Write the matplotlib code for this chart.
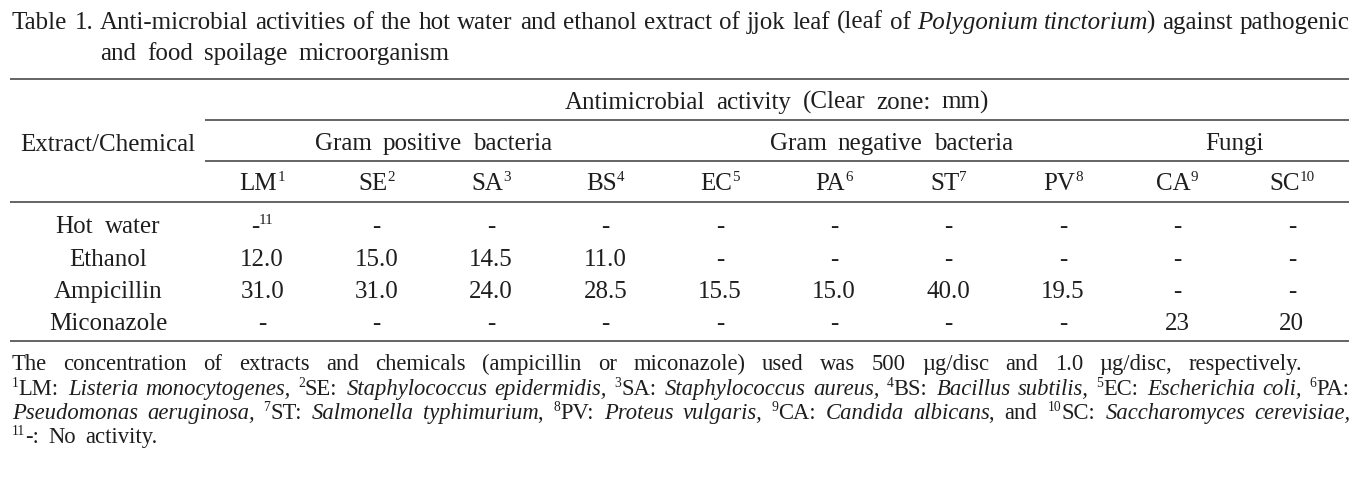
import matplotlib
matplotlib.use("Agg")
import matplotlib.pyplot as plt

# table content
columns = ["LM", "SE", "SA", "BS", "EC", "PA", "ST", "PV", "CA", "SC"]
col_notes = ["1", "2", "3", "4", "5", "6", "7", "8", "9", "10"]
groups = ["Gram positive bacteria", "Gram negative bacteria", "Fungi"]
group_spans = [(0, 4), (4, 8), (8, 10)]
row_labels = ["Hot water", "Ethanol", "Ampicillin", "Miconazole"]
hot_water = [None] * 10
ethanol = [12.0, 15.0, 14.5, 11.0, None, None, None, None, None, None]
ampicillin = [31.0, 31.0, 24.0, 28.5, 15.5, 15.0, 40.0, 19.5, None, None]
miconazole = [None, None, None, None, None, None, None, None, 23, 20]
row_decimals = [1, 1, 1, 0]

title_label = "Table 1."
title_runs1 = [("Anti-microbial activities of the hot water and ethanol extract of jjok leaf (leaf of ", "n"),
               ("Polygonium tinctorium", "i"), (") against pathogenic", "n")]
title_runs2 = [("and food spoilage microorganism", "n")]
note1 = [("The concentration of extracts and chemicals (ampicillin or miconazole) used was 500 µg/disc and 1.0 µg/disc, respectively.", "n")]
note2 = [("1", "s"), ("LM: ", "n"), ("Listeria monocytogenes,", "i"), (" ", "n"),
         ("2", "s"), ("SE: ", "n"), ("Staphylococcus epidermidis,", "i"), (" ", "n"),
         ("3", "s"), ("SA: ", "n"), ("Staphylococcus aureus,", "i"), (" ", "n"),
         ("4", "s"), ("BS: ", "n"), ("Bacillus subtilis,", "i"), (" ", "n"),
         ("5", "s"), ("EC: ", "n"), ("Escherichia coli,", "i"), (" ", "n"),
         ("6", "s"), ("PA:", "n")]
note3 = [("Pseudomonas aeruginosa,", "i"), (" ", "n"),
         ("7", "s"), ("ST: ", "n"), ("Salmonella typhimurium", "i"), (", ", "n"),
         ("8", "s"), ("PV: ", "n"), ("Proteus vulgaris,", "i"), (" ", "n"),
         ("9", "s"), ("CA: ", "n"), ("Candida albicans", "i"), (", and ", "n"),
         ("10", "s"), ("SC: ", "n"), ("Saccharomyces cerevisiae,", "i")]
note4 = [("11", "s"), ("-: No activity.", "n")]

W, H = 1369, 481
FONT = "Liberation Serif"
INK = "#1e1e1e"

fig = plt.figure(figsize=(W / 100, H / 100), dpi=100)
ax = fig.add_axes([0, 0, 1, 1])
ax.set_xlim(0, W)
ax.set_ylim(H, 0)
ax.axis("off")
renderer = fig.canvas.get_renderer()


def props(st, size):
    p = dict(family=FONT, color=INK, va="baseline", ha="left")
    if st == "i":
        p["style"] = "italic"
    p["fontsize"] = size * 0.6 if st == "s" else size
    return p


def text_w(s, st, size):
    t = ax.text(0, 0, s, **props(st, size))
    w = t.get_window_extent(renderer).width
    t.remove()
    if st == "i":
        # italic ink box hangs past the advance
        w -= size * 1.389 * 0.07
    return w


def split_words(runs):
    words = [[]]
    for text, st in runs:
        parts = text.split(" ")
        for i, p in enumerate(parts):
            if i > 0:
                words.append([])
            if p:
                words[-1].append((p, st))
    return [w for w in words if w]


def word_w(word, size):
    return sum(text_w(s, st, size) for s, st in word)


def draw_word(x, y, word, size):
    for s, st in word:
        dy = -size * 1.389 * 0.34 if st == "s" else 0
        ax.text(x, y + dy, s, **props(st, size))
        x += text_w(s, st, size)
    return x


def draw_line(x, y, runs, size, gap=7, width=None, align="left"):
    words = split_words(runs)
    ws = [word_w(w, size) for w in words]
    if width is not None and len(words) > 1:
        gap = (width - sum(ws)) / (len(words) - 1)
    total = sum(ws) + gap * (len(words) - 1)
    if align == "center":
        x -= total / 2
    for w, ww in zip(words, ws):
        draw_word(x, y, w, size)
        x += ww + gap


def hrule(y, x0, x1):
    ax.plot([x0, x1], [y, y], color="#3a3a3a", lw=1.1, solid_capstyle="butt")


BODY = 18
NOTE = 16.3
left, right = 10, 1349
tab_left = 205
col_w = (right - tab_left) / len(columns)
col_x = [tab_left + col_w * (i + 0.5) for i in range(len(columns))]
label_x = 108

# caption
draw_line(12, 29, [(title_label, "n")], BODY)
draw_line(100, 29, title_runs1, BODY, width=right - 100)
draw_line(100, 60, title_runs2, BODY, gap=11)

# header
hrule(80, left, right)
draw_line((tab_left + right) / 2, 109, [("Antimicrobial activity (Clear zone: mm)", "n")], BODY, gap=11, align="center")
hrule(121, tab_left, right)
draw_line(label_x, 151, [("Extract/Chemical", "n")], BODY, align="center")
for g, (a, b) in zip(groups, group_spans):
    cx = (col_x[a] + col_x[b - 1]) / 2
    draw_line(cx, 150, [(g, "n")], BODY, gap=11, align="center")
hrule(162, tab_left, right)
for cx, c, n in zip(col_x, columns, col_notes):
    draw_line(cx, 190, [(c, "n"), (n, "s")], BODY, align="center")
hrule(203, left, right)

# body
row_y = [233, 266, 298, 330]
for r, (lab, vals, dec, y) in enumerate(zip(row_labels, [hot_water, ethanol, ampicillin, miconazole], row_decimals, row_y)):
    draw_line(label_x, y, [(lab, "n")], BODY, gap=12, align="center")
    for c, (cx, v) in enumerate(zip(col_x, vals)):
        if v is None:
            runs = [("-", "n")]
            if r == 0 and c == 0:
                runs.append(("11", "s"))
        else:
            runs = [(f"{v:.{dec}f}", "n")]
        draw_line(cx, y, runs, BODY, align="center")
hrule(342, left, right)

# footnotes
draw_line(12, 370, note1, NOTE, width=1302 - 12)
draw_line(12, 395, note2, NOTE, width=right - 12)
draw_line(12, 419, note3, NOTE, width=right - 12)
draw_line(12, 443, note4, NOTE, gap=9)

fig.savefig("out.png", dpi=100)
